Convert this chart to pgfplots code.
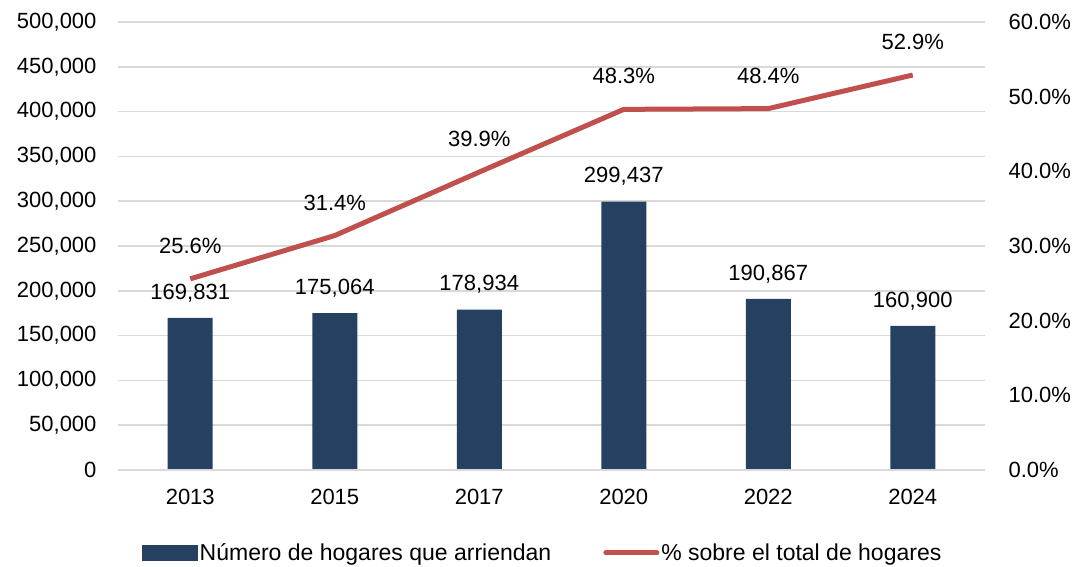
\documentclass[border=0pt]{standalone}
\usepackage{pgfplots}
\pgfplotsset{compat=1.18}
\usepackage{fontspec}
\setmainfont{Liberation Sans}
\usetikzlibrary{calc}
\definecolor{barblue}{RGB}{38,64,97}
\definecolor{linered}{RGB}{192,80,77}
\definecolor{gridgray}{RGB}{217,217,217}

\begin{document}
\begin{tikzpicture}[font=\fontsize{22}{26}\selectfont]
\pgfplotsset{
  base/.style={
    scale only axis, width=867pt, height=448pt,
    xmin=-0.5, xmax=5.5,
    xtick={0,...,5}, xticklabels={2013,2015,2017,2020,2022,2024},
    major tick length=0pt,
    /pgf/number format/assume math mode=true,
    tick label style={font=\fontsize{22}{26}\selectfont},
  }
}
\begin{axis}[base,
  ymin=0, ymax=500000, ytick={0,50000,...,500000},
  scaled y ticks=false,
  yticklabel={\pgfmathprintnumber[fixed,precision=0,1000 sep={,}]{\tick}},
  yticklabel style={xshift=-18pt},
  xticklabel style={yshift=-16pt},
  ymajorgrids, grid style={gridgray, line width=1.5pt},
  axis line style={draw=none},
  axis x line*=bottom, axis y line*=left,
  nodes near coords={\pgfmathprintnumber[fixed,precision=0,1000 sep={,}]{\pgfplotspointmeta}},
  every node near coord/.append style={anchor=center, yshift=25pt, font=\fontsize{22}{26}\selectfont},
]
  \addplot[ybar, bar width=45pt, fill=barblue, draw=none]
    coordinates {(0,169831)(1,175064)(2,178934)(3,299437)(4,190867)(5,160900)};
  \draw[gridgray, line width=1.5pt] (rel axis cs:0,0) -- (rel axis cs:1,0);
  \coordinate (sw) at (rel axis cs:0,0);
  \coordinate (ne) at (rel axis cs:1,1);
\end{axis}
\begin{axis}[base,
  ymin=0, ymax=60, ytick={0,10,...,60},
  axis y line*=right, axis x line=none,
  axis line style={draw=none},
  yticklabel={\pgfmathprintnumber[fixed,fixed zerofill,precision=1]{\tick}\%},
  yticklabel style={xshift=20pt},
  legend style={at={(0.49,-0.185)}, anchor=center, draw=none, fill=none,
    legend columns=2, font=\fontsize{23}{27}\selectfont,
    /tikz/every even column/.append style={column sep=50pt}},
  legend cell align=left,
]
  \addlegendimage{legend image code/.code={\fill[barblue] (0pt,-7.5pt) rectangle (55pt,7.5pt);}}
  \addlegendentry{Número de hogares que arriendan}
  \addplot[linered, line width=5pt, mark=none,
    nodes near coords={\pgfmathprintnumber[fixed,fixed zerofill,precision=1]{\pgfplotspointmeta}\%},
    every node near coord/.append style={anchor=center, yshift=33pt, text=black, font=\fontsize{22}{26}\selectfont},
    legend image code/.code={\draw[linered, line width=5pt, line cap=round] (2pt,0pt) -- (53pt,0pt);}]
    coordinates {(0,25.6)(1,31.4)(2,39.9)(3,48.3)(4,48.4)(5,52.9)};
  \addlegendentry{\% sobre el total de hogares}
\end{axis}
\path[use as bounding box] ($(sw)+(-118pt,-97pt)$) rectangle ($(ne)+(91pt,22pt)$);
\end{tikzpicture}
\end{document}
